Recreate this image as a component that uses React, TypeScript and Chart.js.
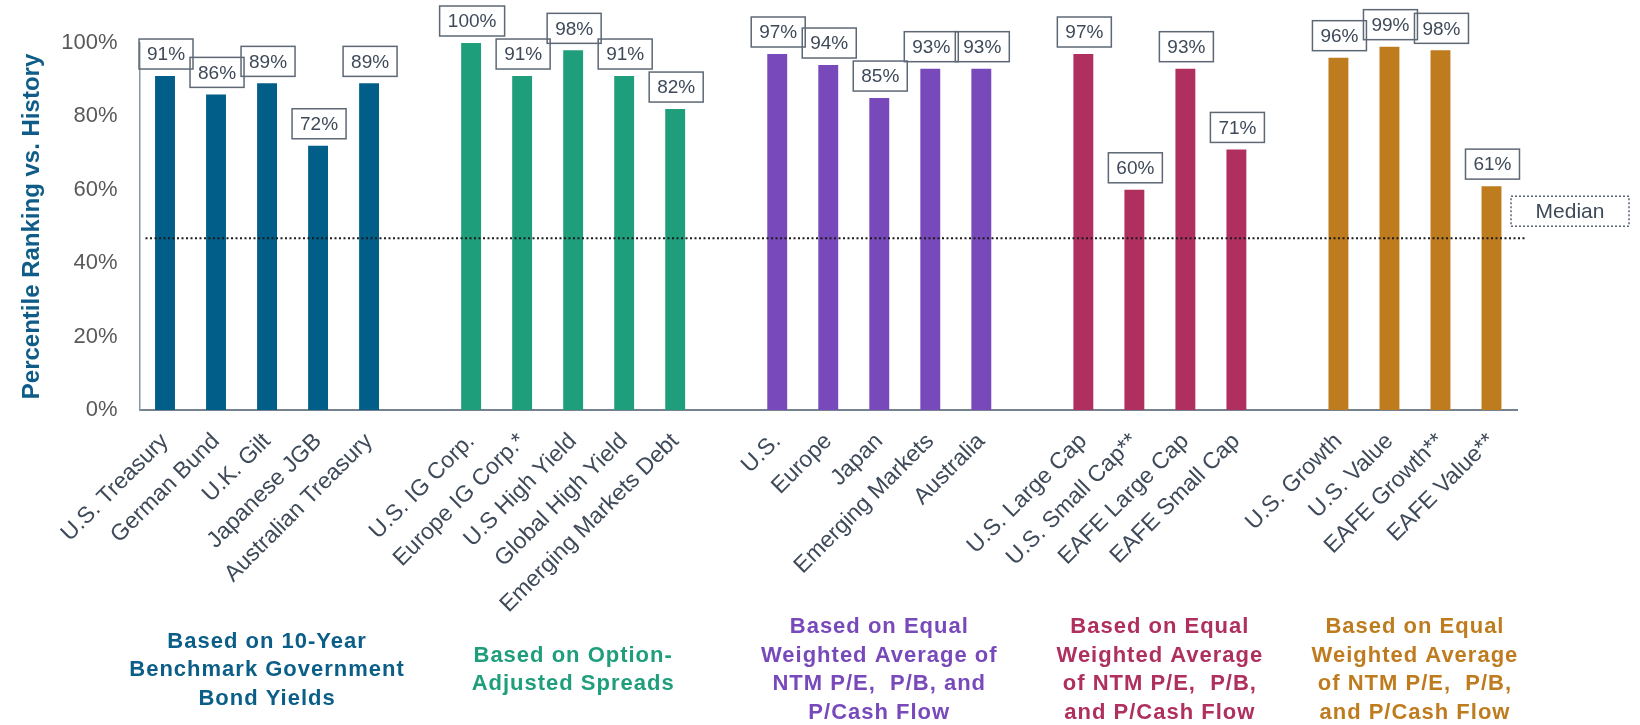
import React, { useEffect, useRef } from "react";
import { Chart, registerables } from "chart.js";

Chart.register(...registerables);

// ---- Data ----
const bondLabels = ["U.S. Treasury", "German Bund", "U.K. Gilt", "Japanese JGB", "Australian Treasury"];
const bondValues = [91, 86, 89, 72, 89];
const bondTitle = ["Based on 10-Year", "Benchmark Government", "Bond Yields"];

const creditLabels = ["U.S. IG Corp.", "Europe IG Corp.*", "U.S High Yield", "Global High Yield", "Emerging Markets Debt"];
const creditValues = [100, 91, 98, 91, 82];
const creditTitle = ["Based on Option-", "Adjusted Spreads"];

const regionLabels = ["U.S.", "Europe", "Japan", "Emerging Markets", "Australia"];
const regionValues = [97, 94, 85, 93, 93];
const regionTitle = ["Based on Equal", "Weighted Average of", "NTM P/E,  P/B, and", "P/Cash Flow"];

const sizeLabels = ["U.S. Large Cap", "U.S. Small Cap**", "EAFE Large Cap", "EAFE Small Cap"];
const sizeValues = [97, 60, 93, 71];
const sizeTitle = ["Based on Equal", "Weighted Average", "of NTM P/E,  P/B,", "and P/Cash Flow"];

const styleLabels = ["U.S. Growth", "U.S. Value", "EAFE Growth**", "EAFE Value**"];
const styleValues = [96, 99, 98, 61];
const styleTitle = ["Based on Equal", "Weighted Average", "of NTM P/E,  P/B,", "and P/Cash Flow"];

const MEDIAN = 46.8;
const yTicks = [0, 20, 40, 60, 80, 100];

const groupColors = ["#005E89", "#1F9E7B", "#7849BA", "#AF2F5E", "#BF7C1F"];
const groupTextColors = ["#0B5E88", "#1F9E7B", "#7849BA", "#AF2F5E", "#BF7C1F"];

const groups = [
  { labels: bondLabels, values: bondValues, title: bondTitle },
  { labels: creditLabels, values: creditValues, title: creditTitle },
  { labels: regionLabels, values: regionValues, title: regionTitle },
  { labels: sizeLabels, values: sizeValues, title: sizeTitle },
  { labels: styleLabels, values: styleValues, title: styleTitle },
];

// Build flat category table with blank slots between groups
const categories: string[] = [];
const values: (number | null)[] = [];
const colors: string[] = [];
const groupRanges: { start: number; end: number }[] = [];
groups.forEach((g, gi) => {
  if (gi > 0) {
    categories.push("");
    values.push(null);
    colors.push("rgba(0,0,0,0)");
  }
  const start = categories.length;
  g.labels.forEach((l, i) => {
    categories.push(l);
    values.push(g.values[i]);
    colors.push(groupColors[gi]);
  });
  groupRanges.push({ start, end: categories.length - 1 });
});

const FONT = "'Liberation Sans', Arial, Helvetica, sans-serif";
const LABEL_COLOR = "#3E4A59";

const overlayPlugin = {
  id: "overlay",
  afterDatasetsDraw(chart: any) {
    const ctx: CanvasRenderingContext2D = chart.ctx;
    const { left, right } = chart.chartArea;
    const ys = chart.scales.y;
    const xs = chart.scales.x;
    ctx.save();

    // Median line
    const my = ys.getPixelForValue(MEDIAN);
    ctx.setLineDash([2, 2.5]);
    ctx.lineWidth = 2;
    ctx.strokeStyle = "#1b1b1b";
    ctx.beginPath();
    ctx.moveTo(left + 6, my);
    ctx.lineTo(right + 8, my);
    ctx.stroke();

    // Median label box
    ctx.setLineDash([2, 2]);
    ctx.lineWidth = 1.5;
    ctx.strokeStyle = "#5A6573";
    const bx = right - 6;
    const bw = 118;
    const bh = 30;
    const by = my - 42;
    ctx.strokeRect(bx, by, bw, bh);
    ctx.setLineDash([]);
    ctx.fillStyle = LABEL_COLOR;
    ctx.font = `21px ${FONT}`;
    ctx.textAlign = "center";
    ctx.textBaseline = "middle";
    ctx.fillText("Median", bx + bw / 2, by + bh / 2 + 1);

    // Value labels in boxes
    const meta = chart.getDatasetMeta(0);
    ctx.font = `19px ${FONT}`;
    ctx.lineWidth = 1.5;
    ctx.strokeStyle = "#5E6875";
    meta.data.forEach((bar: any, i: number) => {
      const v = values[i];
      if (v == null) return;
      const txt = `${v}%`;
      const tw = ctx.measureText(txt).width;
      const w = Math.round(tw + 16);
      const h = 30;
      const cx = bar.x + 1;
      const bottom = bar.y - 7;
      ctx.strokeRect(cx - w / 2, bottom - h, w, h);
      ctx.fillStyle = LABEL_COLOR;
      ctx.fillText(txt, cx, bottom - h / 2 + 1);
    });

    // Group titles
    ctx.font = `bold 22px ${FONT}`;
    (ctx as any).letterSpacing = "1px";
    const lineH = 28.5;
    const centerY = chart.height - 55;
    groups.forEach((g, gi) => {
      const r = groupRanges[gi];
      const cx = (xs.getPixelForValue(r.start) + xs.getPixelForValue(r.end)) / 2;
      ctx.fillStyle = groupTextColors[gi];
      const n = g.title.length;
      g.title.forEach((line, li) => {
        const y = centerY + (li - (n - 1) / 2) * lineH;
        ctx.fillText(line, cx, y);
      });
    });
    (ctx as any).letterSpacing = "0px";
    ctx.restore();
  },
};

export default function App() {
  const ref = useRef<HTMLCanvasElement | null>(null);

  useEffect(() => {
    if (!ref.current) return;
    const chart = new Chart(ref.current, {
      type: "bar",
      data: {
        labels: categories,
        datasets: [
          {
            data: values as any,
            backgroundColor: colors,
            barPercentage: 0.39,
            categoryPercentage: 1,
          },
        ],
      },
      options: {
        animation: false,
        responsive: true,
        maintainAspectRatio: false,
        layout: { padding: { left: 0, right: 123, top: 43, bottom: 0 } },
        plugins: {
          legend: { display: false },
          tooltip: { enabled: false },
        },
        scales: {
          x: {
            grid: { display: false, drawTicks: false },
            border: { display: true, color: "#76828F", width: 2 },
            ticks: {
              autoSkip: false,
              minRotation: 45,
              maxRotation: 45,
              padding: 18,
              labelOffset: 0,
              color: LABEL_COLOR,
              font: { family: FONT, size: 23 },
            },
            afterFit(scale: any) {
              scale.height = 315;
            },
          },
          y: {
            min: 0,
            max: 100,
            afterBuildTicks(scale: any) {
              scale.ticks = yTicks.map((v) => ({ value: v }));
            },
            grid: { display: false, drawTicks: false },
            border: { display: true, color: "#8C96A0", width: 1.5 },
            ticks: {
              padding: 22,
              color: "#595959",
              font: { family: FONT, size: 22 },
              callback: (v: any) => `${v}%`,
            },
            title: {
              display: true,
              text: "Percentile Ranking vs. History",
              color: "#0E5C87",
              font: { family: FONT, size: 24, weight: "bold" },
              padding: { top: 17.5, bottom: 0 },
            },
            afterFit(scale: any) {
              scale.width = 139.5;
            },
          },
        },
      },
      plugins: [overlayPlugin],
    });
    return () => chart.destroy();
  }, []);

  return (
    <div style={{ position: "fixed", left: 0, top: 0, width: 1640, height: 725, background: "#fff" }}>
      <canvas ref={ref} />
    </div>
  );
}
